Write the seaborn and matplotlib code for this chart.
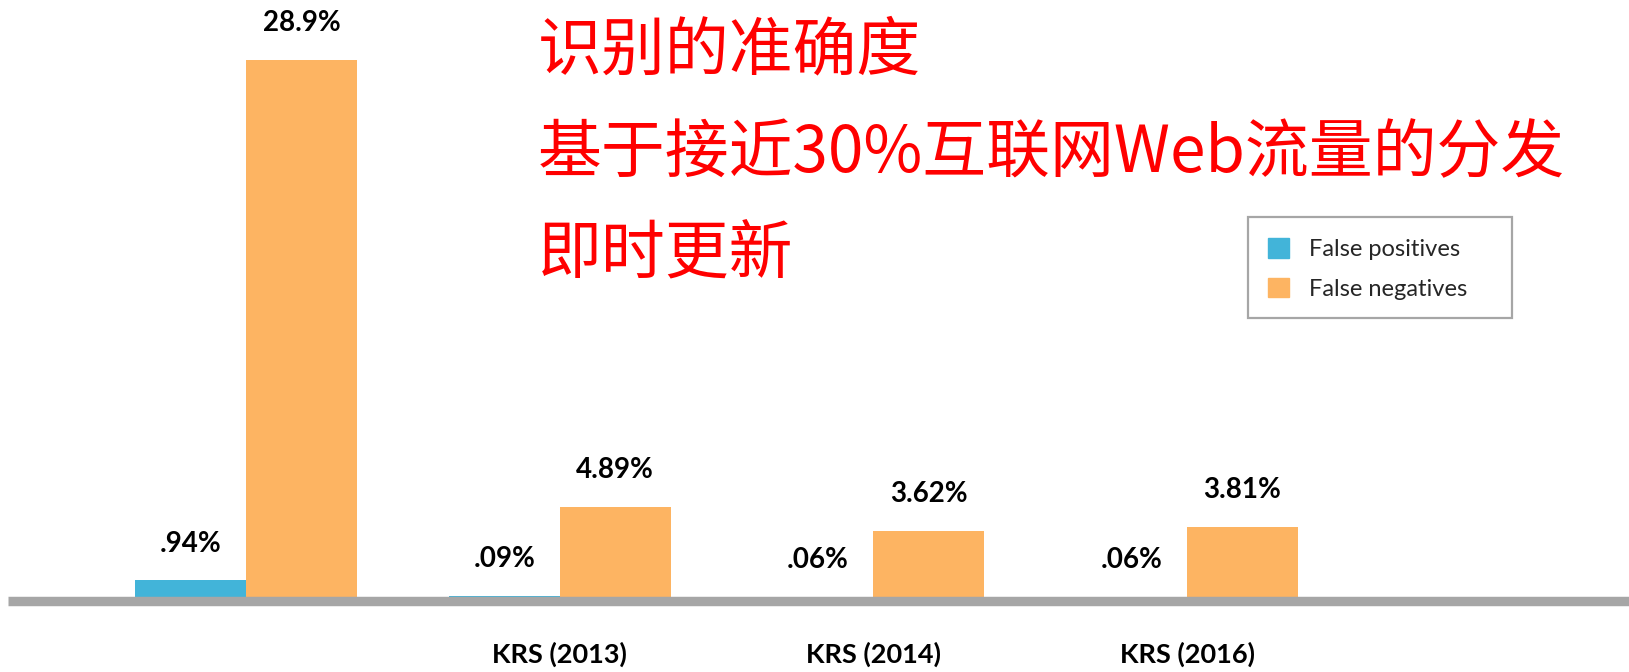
import seaborn as sns
import matplotlib.pyplot as plt
import matplotlib.patches as mpatches
import pandas as pd

# data
categories = ["", "KRS (2013)", "KRS (2014)", "KRS (2016)"]
series = ["False positives", "False negatives"]
false_positives = [0.94, 0.09, 0.06, 0.06]
false_negatives = [28.9, 4.89, 3.62, 3.81]
overlay_lines = ["识别的准确度", "基于接近30%互联网Web流量的分发", "即时更新"]

colors = ["#42B4D9", "#FDB462"]
gray = "#A6A6A6"

sns.set_theme(style="white")
plt.rcParams["font.family"] = ["Lato", "DejaVu Sans"]

df = pd.DataFrame({
    "Category": categories * 2,
    "Series": [series[0]] * len(categories) + [series[1]] * len(categories),
    "Value": false_positives + false_negatives,
})

W, H = 1629, 672
fig = plt.figure(figsize=(W / 100, H / 100), dpi=100)
ax = fig.add_axes([8 / W, 0, 1 - 8 / W, 1])

sns.barplot(data=df, x="Category", y="Value", hue="Series", order=categories,
            hue_order=series, palette=colors, width=0.708, linewidth=0,
            saturation=1, ax=ax, legend=False)

ax.set_xlim(-0.759, 4.409)
ax.set_ylim(-3.98, 32.12)

for sp in ["left", "top", "right"]:
    ax.spines[sp].set_visible(False)
ax.spines["bottom"].set_position(("data", -0.19))
ax.spines["bottom"].set_color(gray)
ax.spines["bottom"].set_linewidth(6.8)
ax.spines["bottom"].set_capstyle("butt")

ax.set_yticks([])
ax.set_xlabel("")
ax.set_ylabel("")
ax.set_xticks(range(len(categories)))
ax.set_xticklabels(categories, fontsize=19.5, fontweight="bold", color="black")
ax.tick_params(axis="x", length=0, pad=29)

# value labels above the bars
for cont, vals in zip(ax.containers, [false_positives, false_negatives]):
    for bar, v in zip(cont, vals):
        txt = f"{v:.3g}".lstrip("0") + "%"
        ax.annotate(txt, (bar.get_x() + bar.get_width() / 2, bar.get_height()),
                    xytext=(0, 26.5), textcoords="offset points",
                    ha="center", va="center", fontsize=20, fontweight="bold",
                    color="black")

# legend with a wider frame drawn by hand
handles = [mpatches.Patch(color=c, label=s) for c, s in zip(colors, series)]
fig.legend(handles=handles, loc="upper left",
           bbox_to_anchor=(1268 / W, 1 - 238 / H), frameon=False,
           fontsize=17, handlelength=0.9, handleheight=0.9,
           handletextpad=0.85, labelspacing=0.75, borderpad=0, borderaxespad=0)
fig.patches.append(mpatches.Rectangle((1248 / W, 1 - 318 / H), 264 / W, 101 / H,
                                      transform=fig.transFigure, fill=False,
                                      edgecolor=gray, linewidth=1.6))

# red overlay text
for txt, yc in zip(overlay_lines, [51, 154, 255]):
    fig.text(538 / W, 1 - yc / H, txt, color="#FF0000", fontsize=46,
             ha="left", va="center", family=["Noto Sans CJK SC", "DejaVu Sans"])

fig.savefig("out.png", dpi=100)
